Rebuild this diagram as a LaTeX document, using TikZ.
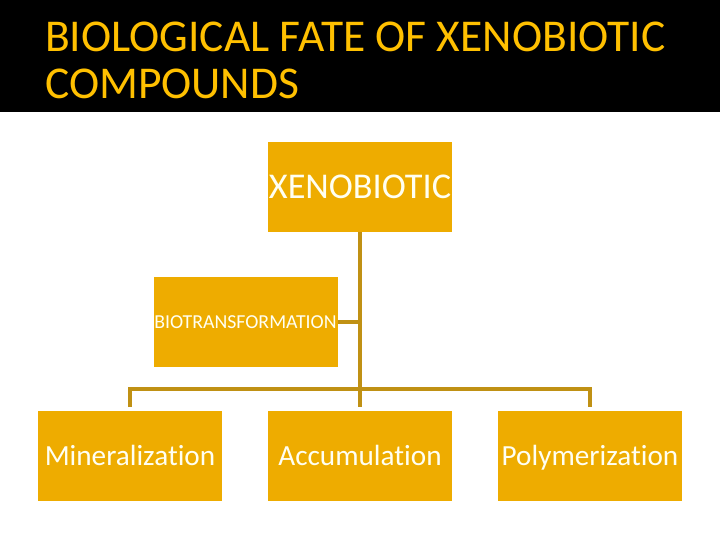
\documentclass[tikz,border=0pt]{standalone}
\usepackage{fontspec}
\setmainfont{Carlito}[Ligatures={NoCommon}]
\definecolor{titlecol}{RGB}{255,192,0}
\definecolor{boxcol}{RGB}{238,172,0}
\definecolor{linecol}{RGB}{192,145,20}
\definecolor{boxtext}{RGB}{255,255,242}
\tikzset{
  fatebox/.style={fill=boxcol, text=boxtext, minimum width=184pt, minimum height=90pt, inner sep=0pt, outer sep=0pt, text depth=0pt},
  conn/.style={draw=linecol, line width=4pt},
}
\begin{document}
\begin{tikzpicture}[x=1pt,y=-1pt]
\useasboundingbox (0,0) rectangle (720,540);
\fill[black] (0,0) rectangle (720,112);
\node[anchor=base west, text=titlecol, inner sep=0pt, font=\fontsize{45.5}{48}\selectfont] (t1) at (45,52) {BIOLOGICAL FATE OF XENOBIOTIC};
\node[anchor=base west, text=titlecol, inner sep=0pt, font=\fontsize{45.5}{48}\selectfont] (t2) at (45,99) {COMPOUNDS};
\node[fatebox, text height=23.4pt, font=\fontsize{36.3}{40}\selectfont] (xeno) at (360,187) {XENOBIOTIC};
\node[fatebox, text height=12.75pt, font=\fontsize{19.8}{22}\selectfont] (biot) at (245.5,322) {BIOTRANSFORMATION};
\node[fatebox, text height=18.8pt, font=\fontsize{29.2}{32}\selectfont] (mine) at (130,456) {Mineralization};
\node[fatebox, text height=18.8pt, font=\fontsize{29.2}{32}\selectfont] (accu) at (360,456) {Accumulation};
\node[fatebox, text height=18.8pt, font=\fontsize{29.2}{32}\selectfont] (poly) at (590,456) {Polymerization};
\coordinate (bus) at (360,389);
\draw[conn, shorten >=4pt] (xeno.south) -- (accu.north);
\draw[conn] (biot.east) -- (biot.east -| xeno.south);
\draw[conn, shorten <=4pt, shorten >=4pt, line join=miter] (mine.north) -- (mine.north |- bus) -- (poly.north |- bus) -- (poly.north);
\end{tikzpicture}
\end{document}
